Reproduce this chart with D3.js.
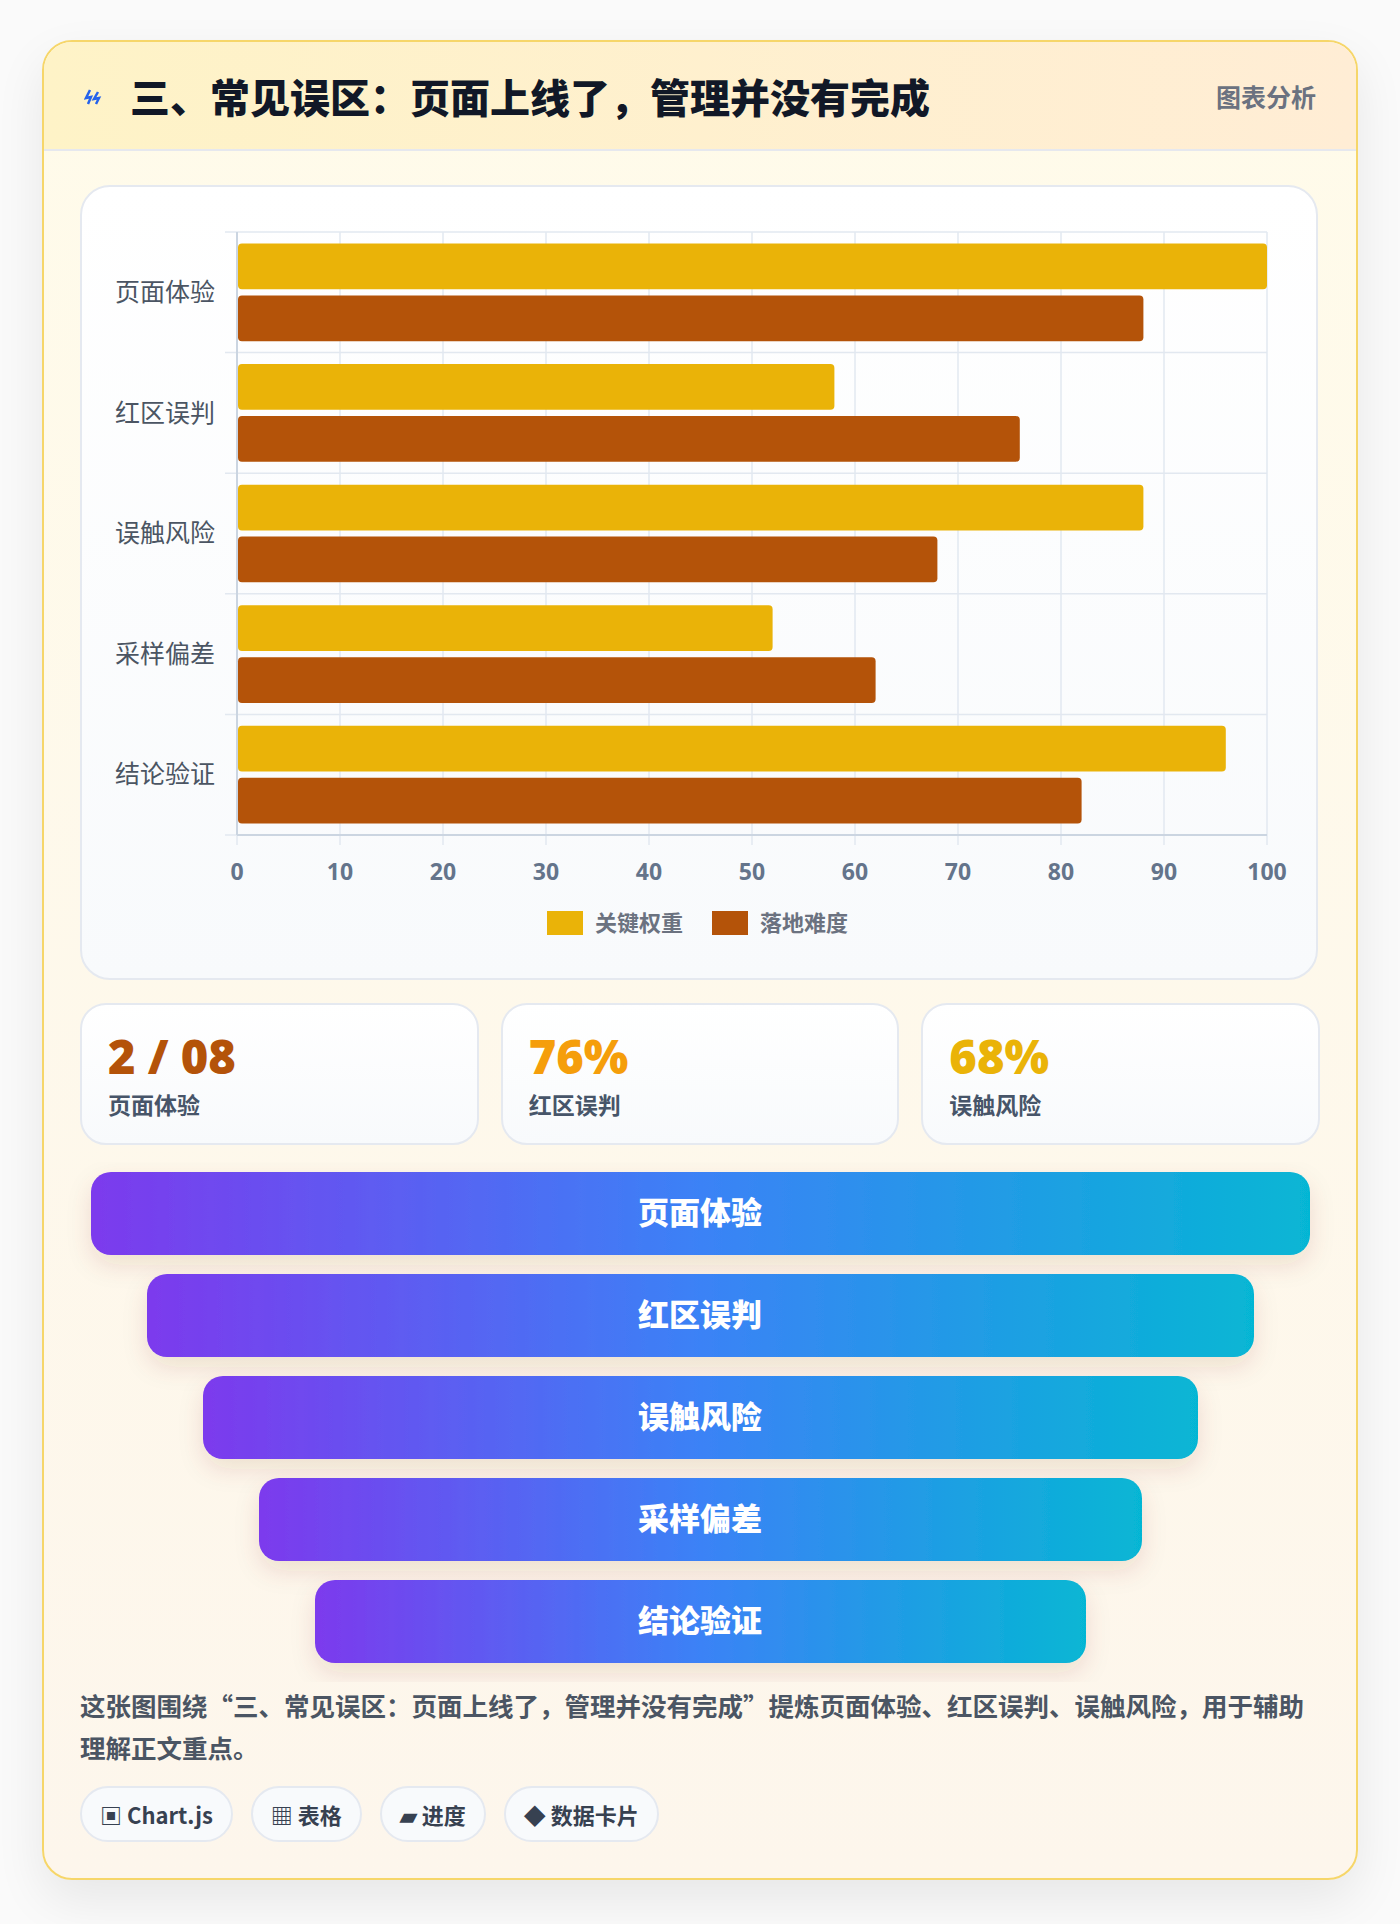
<!DOCTYPE html>
<html><head><meta charset="utf-8">
<script src="https://cdn.jsdelivr.net/npm/d3@7"></script>
<style>
body{margin:0;background:#fafafa;font-family:"Noto Sans CJK SC","Noto Sans",sans-serif;width:1400px;height:1924px;overflow:hidden}
.card{position:absolute;left:42px;top:40px;width:1312px;height:1836px;border:2px solid #f6d66a;border-radius:30px;background:linear-gradient(#fffbea,#fdf6ec);box-shadow:0 20px 50px rgba(0,0,0,.08);overflow:hidden}
.hdr{height:109px;border-bottom:2px solid #e6e8ee;background:linear-gradient(90deg,#fef3c7,#ffedd5);display:flex;align-items:center;padding:0 40px;box-sizing:border-box}
.hdr h1{font-size:40px;font-weight:900;color:#111827;margin:0 0 0 22px;flex:1}
.hdr span{font-size:25px;font-weight:700;color:#6b7280}
.panel{position:absolute;left:36px;top:143px;width:1238px;height:795px;background:linear-gradient(#fff,#f8fafc);border:2px solid #e5e9f0;border-radius:30px;box-sizing:border-box}
.stats{position:absolute;top:961px;left:36px;width:1240px;display:flex;gap:22px}
.stat{flex:1;height:142px;background:linear-gradient(#fff,#f8fafc);border:2px solid #e5e9f0;border-radius:26px;padding:24px 26px;box-sizing:border-box}
.stat b{display:block;font-family:"Open Sans","Noto Sans",sans-serif;font-weight:800;font-size:47px;line-height:54px;margin-bottom:6px}
.stat i{display:block;font-style:normal;font-weight:700;font-size:23px;line-height:30px;color:#475569}
.desc{position:absolute;left:36px;top:1642px;width:1245px;font-size:25.5px;font-weight:700;color:#4b5563;line-height:42px}
.tags{position:absolute;left:36px;top:1744px;display:flex;gap:18px}
.tag{height:56px;border:2px solid #e5e9f0;border-radius:28px;background:#f8fafc;padding:0 18px;display:flex;align-items:center;font-size:22px;font-weight:700;color:#374151;box-sizing:border-box}
</style></head><body>
<div class="card">
 <div class="hdr"><svg width="24" height="20"><path d="M6 4 L2 12 L7 11 L4 18" stroke="#2563eb" stroke-width="2.5" fill="none"/><path d="M14 6 L10 13 L15 12 L12 18" stroke="#2563eb" stroke-width="2.5" fill="none"/></svg><h1>三、常见误区：页面上线了，管理并没有完成</h1><span>图表分析</span></div>
 <div class="panel"><svg id="chart" width="1238" height="795"></svg></div>
 <div class="stats" id="stats"></div>
 <svg id="funnel" width="1312" height="520" style="position:absolute;left:0;top:1120px"></svg>
 <div class="desc">这张图围绕“三、常见误区：页面上线了，管理并没有完成”提炼页面体验、红区误判、误触风险，用于辅助理解正文重点。</div>
 <div class="tags" id="tags"></div>
</div>
<script>
const categories=["页面体验","红区误判","误触风险","采样偏差","结论验证"];
const weight=[100,58,88,52,96];
const difficulty=[88,76,68,62,82];
const seriesNames=["关键权重","落地难度"];
const seriesColors=["#eab308","#b45309"];
const ticks=[0,10,20,30,40,50,60,70,80,90,100];
const statValues=["2 / 08","76%","68%"];
const statLabels=["页面体验","红区误判","误触风险"];
const statColors=["#b45309","#f59e0b","#eab308"];
const tagLabels=["▣ Chart.js","▦ 表格","▰ 进度","◆ 数据卡片"];

const svg=d3.select("#chart");
const m={l:155,r:1185,t:45,b:648};
const x=d3.scaleLinear().domain([0,100]).range([m.l,m.r]);
const y=d3.scaleBand().domain(categories).range([m.t,m.b]);
const inner=d3.scaleBand().domain([0,1]).range([0,y.bandwidth()]).paddingInner(0.12).paddingOuter(0.22);
const g=svg.append("g");
g.selectAll("line.v").data(ticks).join("line").attr("x1",d=>x(d)).attr("x2",d=>x(d)).attr("y1",m.t).attr("y2",m.b+10).attr("stroke","#e2e8f0").attr("stroke-width",1.5);
g.selectAll("line.h").data(d3.range(categories.length+1)).join("line").attr("x1",m.l-12).attr("x2",m.r).attr("y1",i=>m.t+i*y.step()).attr("y2",i=>m.t+i*y.step()).attr("stroke","#e2e8f0").attr("stroke-width",1.5);
g.append("line").attr("x1",m.l).attr("x2",m.l).attr("y1",m.t).attr("y2",m.b).attr("stroke","#cbd5e1").attr("stroke-width",2);
g.append("line").attr("x1",m.l).attr("x2",m.r).attr("y1",m.b).attr("y2",m.b).attr("stroke","#cbd5e1").attr("stroke-width",2);
[weight,difficulty].forEach((vals,si)=>{
 g.selectAll("rect.s"+si).data(vals).join("rect").attr("x",x(0)+1).attr("y",(d,i)=>y(categories[i])+inner(si)).attr("width",d=>x(d)-x(0)-1).attr("height",inner.bandwidth()).attr("rx",4).attr("fill",seriesColors[si]);
});
g.selectAll("text.c").data(categories).join("text").attr("x",m.l-22).attr("y",d=>y(d)+y.bandwidth()/2).attr("dy","0.35em").attr("text-anchor","end").attr("font-size",25).attr("fill","#4b5563").text(d=>d);
g.selectAll("text.t").data(ticks).join("text").attr("x",d=>x(d)).attr("y",m.b+45).attr("text-anchor","middle").attr("font-size",23).attr("font-weight",700).attr("font-family","Open Sans,sans-serif").attr("fill","#64748b").text(d=>d);
const lg=g.append("g").attr("transform","translate(465,724)");
seriesNames.forEach((n,i)=>{
 const o=i*165;
 lg.append("rect").attr("x",o).attr("y",0).attr("width",36).attr("height",24).attr("fill",seriesColors[i]);
 lg.append("text").attr("x",o+48).attr("y",12).attr("dy","0.35em").attr("font-size",22).attr("font-weight",700).attr("fill","#6b7280").text(n);
});

d3.select("#stats").selectAll("div").data(statValues).join("div").attr("class","stat").html((d,i)=>`<b style="color:${statColors[i]}">${d}</b><i>${statLabels[i]}</i>`);

const f=d3.select("#funnel");
const defs=f.append("defs");
const gr=defs.append("linearGradient").attr("id","fg");
gr.append("stop").attr("offset","0").attr("stop-color","#7c3aed");
gr.append("stop").attr("offset","0.5").attr("stop-color","#3b82f6");
gr.append("stop").attr("offset","1").attr("stop-color","#06b6d4");
const flt=defs.append("filter").attr("id","sh").attr("x","-10%").attr("y","-30%").attr("width","120%").attr("height","180%");
flt.append("feDropShadow").attr("dx",0).attr("dy",10).attr("stdDeviation",12).attr("flood-color","#7c2d12").attr("flood-opacity",0.12);
const fy=d3.scaleBand().domain(categories).range([10,501]).paddingInner(0.186);
const cx=656;
f.selectAll("rect").data(categories).join("rect").attr("x",(d,i)=>47+i*56).attr("y",d=>fy(d)).attr("width",(d,i)=>1219-i*112).attr("height",fy.bandwidth()).attr("rx",20).attr("fill","url(#fg)").attr("filter","url(#sh)");
f.selectAll("text").data(categories).join("text").attr("x",cx).attr("y",d=>fy(d)+fy.bandwidth()/2).attr("dy","0.35em").attr("text-anchor","middle").attr("font-size",31).attr("font-weight",900).attr("fill","#fff").text(d=>d);

d3.select("#tags").selectAll("div").data(tagLabels).join("div").attr("class","tag").text(d=>d);
</script>
</body></html>
